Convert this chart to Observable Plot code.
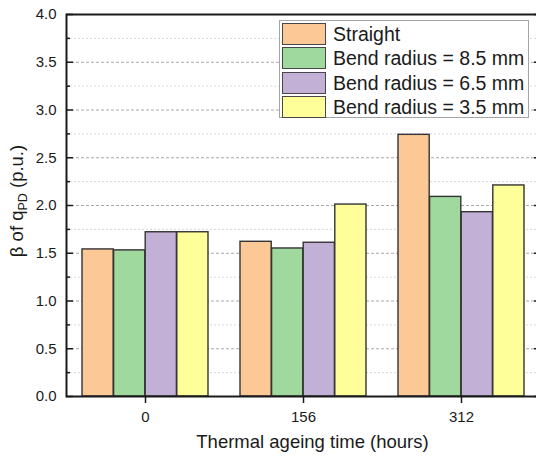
<!DOCTYPE html>
<html>
<head>
<meta charset="utf-8">
<script src="https://cdn.jsdelivr.net/npm/d3@7"></script>
<script src="https://cdn.jsdelivr.net/npm/@observablehq/plot@0.6"></script>
<style>
  body { margin: 0; background: white; font-family: "Liberation Sans", Arial, sans-serif; }
  #wrap { position: relative; width: 536px; height: 460px; overflow: hidden; }
  #legend { position: absolute; left: 279px; top: 20px; width: 250px; height: 98px;
            border: 1px solid #a5a5a5; background: white; box-sizing: border-box; }
  .lrow { position: absolute; left: 2px; height: 22px; }
  .sw { position: absolute; left: 0; top: 0; width: 44px; height: 22px; box-sizing: border-box;
        border: 1.5px solid #474747; }
  .lt { position: absolute; left: 51px; top: 0; line-height: 22px; font-size: 19.5px; color: #1a1a1a; white-space: nowrap; }
</style>
</head>
<body>
<div id="wrap"><div id="legend"></div></div>
<script>
const times = ["0", "156", "312"];
const seriesNames = ["Straight", "Bend radius = 8.5 mm", "Bend radius = 6.5 mm", "Bend radius = 3.5 mm"];
const straight = [1.54, 1.62, 2.74];
const bend85 = [1.53, 1.55, 2.09];
const bend65 = [1.72, 1.61, 1.93];
const bend35 = [1.72, 2.01, 2.21];
const seriesColors = ["#FBC896", "#A0D99E", "#C3B0D6", "#FFFF99"];
const yMajorTicks = [0, 0.5, 1.0, 1.5, 2.0, 2.5, 3.0, 3.5, 4.0];
const yMinorTicks = [0.25, 0.75, 1.25, 1.75, 2.25, 2.75, 3.25, 3.75];
const xTitle = "Thermal ageing time (hours)";
const yTitleMain = "β of q";
const yTitleSub = "PD";
const yTitleUnit = " (p.u.)";

const seriesValues = [straight, bend85, bend65, bend35];

const W = 536, H = 460;
const mLeft = 66, mRight = -4, mTop = 14, mBottom = 64;
const padInner = 0.2, padOuter = 0.1;
const bw = d3.scaleBand(times, [mLeft, W - mRight]).paddingInner(padInner).paddingOuter(padOuter).bandwidth();
const sub = bw / seriesNames.length;

const barMarks = seriesValues.map((vals, i) =>
  Plot.barY(times.map((t, j) => ({time: t, value: vals[j], series: seriesNames[i]})), {
    x: "time", y: "value", fill: seriesColors[i], stroke: "#333333", strokeWidth: 1.4,
    insetLeft: i * sub, insetRight: (seriesNames.length - 1 - i) * sub
  })
);

const chart = Plot.plot({
  width: W, height: H,
  marginLeft: mLeft, marginRight: mRight, marginTop: mTop, marginBottom: mBottom,
  style: {fontFamily: "Liberation Sans, Arial, sans-serif", fontSize: "15px", color: "#1a1a1a", background: "white"},
  x: {domain: times, paddingInner: padInner, paddingOuter: padOuter},
  y: {domain: [0, 4]},
  marks: [
    Plot.ruleY(yMinorTicks, {stroke: "#d8d8d8", strokeDasharray: "2,2", strokeWidth: 1}),
    Plot.ruleY(yMajorTicks, {stroke: "#a8a8a8", strokeDasharray: "3,2", strokeWidth: 1}),
    ...barMarks,
    Plot.frame({stroke: "#1a1a1a", strokeWidth: 2}),
    Plot.axisY(yMajorTicks, {anchor: "left", tickSize: -7, tickPadding: 17, strokeWidth: 1.5,
      tickFormat: d => d.toFixed(1), label: null, color: "#1a1a1a", fontSize: 15}),
    Plot.axisY(yMinorTicks, {anchor: "left", tickSize: -4, strokeWidth: 1.5, tickFormat: () => "", label: null, color: "#1a1a1a"}),
    Plot.axisY(yMajorTicks, {anchor: "right", tickSize: -7, strokeWidth: 1.5, tickFormat: () => "", label: null, color: "#1a1a1a"}),
    Plot.axisX({anchor: "bottom", tickSize: 7, tickPadding: 8, strokeWidth: 1.5, label: null, color: "#1a1a1a", fontSize: 15}),
    Plot.text([xTitle], {frameAnchor: "bottom", dy: 51, dx: 9, fontSize: 18.5, fill: "#1a1a1a"})
  ]
});

const svg = d3.select(chart);
const yt = svg.append("text")
  .attr("transform", "translate(23,201) rotate(-90)")
  .attr("text-anchor", "middle")
  .attr("font-size", 18.5)
  .attr("fill", "#1a1a1a")
  .attr("font-family", "Liberation Sans, Arial, sans-serif");
yt.append("tspan").text(yTitleMain);
yt.append("tspan").attr("font-size", 12.5).attr("dy", 4).text(yTitleSub);
yt.append("tspan").attr("dy", -4).text(yTitleUnit);

document.getElementById("wrap").prepend(chart);

const legend = document.getElementById("legend");
seriesNames.forEach((name, i) => {
  const row = document.createElement("div");
  row.className = "lrow";
  row.style.top = (1.5 + i * 24.5) + "px";
  const sw = document.createElement("div");
  sw.className = "sw";
  sw.style.background = seriesColors[i];
  const lt = document.createElement("div");
  lt.className = "lt";
  lt.textContent = name;
  row.appendChild(sw); row.appendChild(lt);
  legend.appendChild(row);
});
</script>
</body>
</html>
